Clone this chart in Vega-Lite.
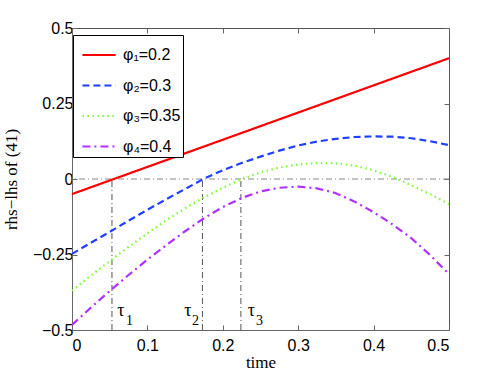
{
  "$schema": "https://vega.github.io/schema/vega-lite/v6.json",
  "autosize": "none",
  "width": 377,
  "height": 302,
  "padding": {"left": 72, "top": 28, "right": 47, "bottom": 43},
  "background": "white",
  "config": {
    "view": {"stroke": "#555", "strokeWidth": 1},
    "axis": {
      "grid": false,
      "labelFont": "Liberation Sans",
      "labelFontSize": 16,
      "labelColor": "black",
      "titleFont": "Liberation Serif",
      "titleFontSize": 17,
      "titleFontWeight": "normal",
      "titleColor": "black",
      "domainColor": "#666",
      "tickColor": "#666",
      "tickSize": -5
    }
  },
  "datasets": {
    "curves": [
      {"s": "φ₁=0.2", "x": 0, "y": -0.05},
      {"s": "φ₁=0.2", "x": 0.25, "y": 0.175},
      {"s": "φ₁=0.2", "x": 0.5, "y": 0.4},
      {"s": "φ₂=0.3", "x": 0, "y": -0.248},
      {"s": "φ₂=0.3", "x": 0.025, "y": -0.211},
      {"s": "φ₂=0.3", "x": 0.05, "y": -0.175},
      {"s": "φ₂=0.3", "x": 0.075, "y": -0.138},
      {"s": "φ₂=0.3", "x": 0.1, "y": -0.102},
      {"s": "φ₂=0.3", "x": 0.125, "y": -0.067},
      {"s": "φ₂=0.3", "x": 0.15, "y": -0.033},
      {"s": "φ₂=0.3", "x": 0.175, "y": 0.001},
      {"s": "φ₂=0.3", "x": 0.2, "y": 0.029},
      {"s": "φ₂=0.3", "x": 0.225, "y": 0.053},
      {"s": "φ₂=0.3", "x": 0.25, "y": 0.074},
      {"s": "φ₂=0.3", "x": 0.275, "y": 0.094},
      {"s": "φ₂=0.3", "x": 0.3, "y": 0.111},
      {"s": "φ₂=0.3", "x": 0.325, "y": 0.124},
      {"s": "φ₂=0.3", "x": 0.35, "y": 0.133},
      {"s": "φ₂=0.3", "x": 0.375, "y": 0.139},
      {"s": "φ₂=0.3", "x": 0.4, "y": 0.141},
      {"s": "φ₂=0.3", "x": 0.425, "y": 0.14},
      {"s": "φ₂=0.3", "x": 0.45, "y": 0.135},
      {"s": "φ₂=0.3", "x": 0.475, "y": 0.125},
      {"s": "φ₂=0.3", "x": 0.5, "y": 0.112},
      {"s": "φ₃=0.35", "x": 0, "y": -0.37},
      {"s": "φ₃=0.35", "x": 0.025, "y": -0.32},
      {"s": "φ₃=0.35", "x": 0.05, "y": -0.272},
      {"s": "φ₃=0.35", "x": 0.075, "y": -0.225},
      {"s": "φ₃=0.35", "x": 0.1, "y": -0.18},
      {"s": "φ₃=0.35", "x": 0.125, "y": -0.137},
      {"s": "φ₃=0.35", "x": 0.15, "y": -0.097},
      {"s": "φ₃=0.35", "x": 0.175, "y": -0.061},
      {"s": "φ₃=0.35", "x": 0.2, "y": -0.029},
      {"s": "φ₃=0.35", "x": 0.225, "y": 0.0},
      {"s": "φ₃=0.35", "x": 0.25, "y": 0.022},
      {"s": "φ₃=0.35", "x": 0.275, "y": 0.038},
      {"s": "φ₃=0.35", "x": 0.3, "y": 0.048},
      {"s": "φ₃=0.35", "x": 0.325, "y": 0.053},
      {"s": "φ₃=0.35", "x": 0.35, "y": 0.052},
      {"s": "φ₃=0.35", "x": 0.375, "y": 0.044},
      {"s": "φ₃=0.35", "x": 0.4, "y": 0.029},
      {"s": "φ₃=0.35", "x": 0.425, "y": 0.007},
      {"s": "φ₃=0.35", "x": 0.45, "y": -0.021},
      {"s": "φ₃=0.35", "x": 0.475, "y": -0.05},
      {"s": "φ₃=0.35", "x": 0.5, "y": -0.083},
      {"s": "φ₄=0.4", "x": 0, "y": -0.483},
      {"s": "φ₄=0.4", "x": 0.025, "y": -0.426},
      {"s": "φ₄=0.4", "x": 0.05, "y": -0.371},
      {"s": "φ₄=0.4", "x": 0.075, "y": -0.318},
      {"s": "φ₄=0.4", "x": 0.1, "y": -0.267},
      {"s": "φ₄=0.4", "x": 0.125, "y": -0.219},
      {"s": "φ₄=0.4", "x": 0.15, "y": -0.173},
      {"s": "φ₄=0.4", "x": 0.175, "y": -0.13},
      {"s": "φ₄=0.4", "x": 0.2, "y": -0.093},
      {"s": "φ₄=0.4", "x": 0.225, "y": -0.063},
      {"s": "φ₄=0.4", "x": 0.25, "y": -0.041},
      {"s": "φ₄=0.4", "x": 0.275, "y": -0.029},
      {"s": "φ₄=0.4", "x": 0.3, "y": -0.025},
      {"s": "φ₄=0.4", "x": 0.325, "y": -0.031},
      {"s": "φ₄=0.4", "x": 0.35, "y": -0.047},
      {"s": "φ₄=0.4", "x": 0.375, "y": -0.075},
      {"s": "φ₄=0.4", "x": 0.4, "y": -0.11},
      {"s": "φ₄=0.4", "x": 0.425, "y": -0.15},
      {"s": "φ₄=0.4", "x": 0.45, "y": -0.196},
      {"s": "φ₄=0.4", "x": 0.475, "y": -0.252},
      {"s": "φ₄=0.4", "x": 0.5, "y": -0.315}
    ],
    "zero": [{"y": 0}],
    "taus": [
      {"x": 0.053, "y": -0.5, "y2": 0},
      {"x": 0.173, "y": -0.5, "y2": 0},
      {"x": 0.224, "y": -0.5, "y2": 0}
    ],
    "taulabels": [
      {"kind": "main", "t": "τ", "x": 0.06, "y": -0.453},
      {"kind": "sub", "t": "1", "x": 0.0717, "y": -0.482},
      {"kind": "main", "t": "τ", "x": 0.149, "y": -0.453},
      {"kind": "sub", "t": "2", "x": 0.159, "y": -0.482},
      {"kind": "main", "t": "τ", "x": 0.233, "y": -0.453},
      {"kind": "sub", "t": "3", "x": 0.244, "y": -0.482}
    ]
  },
  "layer": [
    {
      "data": {"name": "zero"},
      "mark": {"type": "rule", "color": "#888", "strokeWidth": 1, "strokeDash": [6, 3, 1, 3]},
      "encoding": {
        "y": {"field": "y", "type": "quantitative", "scale": {"domain": [-0.5, 0.5]}, "axis": null}
      }
    },
    {
      "data": {"name": "taus"},
      "mark": {"type": "rule", "color": "#555", "strokeWidth": 1, "strokeDash": [6, 3, 1, 3]},
      "encoding": {
        "x": {"field": "x", "type": "quantitative", "scale": {"domain": [0, 0.5]},
          "axis": {"orient": "top", "labels": false, "domain": false, "title": null, "values": [0, 0.1, 0.2, 0.3, 0.4, 0.5]}},
        "y": {"field": "y", "type": "quantitative",
          "axis": {"orient": "right", "labels": false, "domain": false, "title": null, "values": [-0.5, -0.25, 0, 0.25, 0.5]}},
        "y2": {"field": "y2"}
      }
    },
    {
      "data": {"name": "curves"},
      "mark": {"type": "line", "strokeWidth": 2.2},
      "encoding": {
        "x": {"field": "x", "type": "quantitative", "scale": {"domain": [0, 0.5]},
          "axis": {"orient": "bottom", "values": [0, 0.1, 0.2, 0.3, 0.4, 0.5], "format": ".1~f", "title": "time", "labelPadding": 12, "titlePadding": 1}},
        "y": {"field": "y", "type": "quantitative", "scale": {"domain": [-0.5, 0.5]},
          "axis": {"orient": "left", "values": [-0.5, -0.25, 0, 0.25, 0.5], "format": ".2~f", "title": "rhs−lhs of (41)", "labelPadding": 4, "titlePadding": 12}},
        "color": {"field": "s", "type": "nominal", "title": null,
          "scale": {"domain": ["φ₁=0.2", "φ₂=0.3", "φ₃=0.35", "φ₄=0.4"], "range": ["#ff0000", "#2040ff", "#7cfc30", "#b030ff"]},
          "legend": {"orient": "none", "legendX": 1, "legendY": 7, "fillColor": "white", "strokeColor": "black", "padding": 2, "symbolType": "stroke", "symbolSize": 1100, "symbolStrokeWidth": 2.2, "symbolOffset": 6, "labelFont": "Liberation Sans", "labelFontSize": 16, "labelColor": "black", "rowPadding": 4.5, "labelOffset": 6}},
        "strokeDash": {"field": "s", "type": "nominal", "title": null,
          "scale": {"domain": ["φ₁=0.2", "φ₂=0.3", "φ₃=0.35", "φ₄=0.4"], "range": [[1, 0], [7, 4], [1.5, 3.5], [8, 4, 2, 4]]},
          "legend": {"orient": "none", "legendX": 1, "legendY": 7, "fillColor": "white", "strokeColor": "black", "padding": 2, "symbolType": "stroke", "symbolSize": 1100, "symbolStrokeWidth": 2.2, "symbolOffset": 6, "labelFont": "Liberation Sans", "labelFontSize": 16, "labelColor": "black", "rowPadding": 4.5, "labelOffset": 6}}
      }
    },
    {
      "data": {"name": "taulabels"},
      "transform": [{"filter": "datum.kind === 'main'"}],
      "mark": {"type": "text", "font": "Liberation Serif", "fontSize": 18, "align": "left", "baseline": "alphabetic", "color": "black"},
      "encoding": {
        "x": {"field": "x", "type": "quantitative", "axis": null},
        "y": {"field": "y", "type": "quantitative", "axis": null},
        "text": {"field": "t"}
      }
    },
    {
      "data": {"name": "taulabels"},
      "transform": [{"filter": "datum.kind === 'sub'"}],
      "mark": {"type": "text", "font": "Liberation Serif", "fontSize": 14, "align": "left", "baseline": "alphabetic", "color": "black"},
      "encoding": {
        "x": {"field": "x", "type": "quantitative", "axis": null},
        "y": {"field": "y", "type": "quantitative", "axis": null},
        "text": {"field": "t"}
      }
    }
  ],
  "resolve": {"axis": {"x": "independent", "y": "independent"}}
}
